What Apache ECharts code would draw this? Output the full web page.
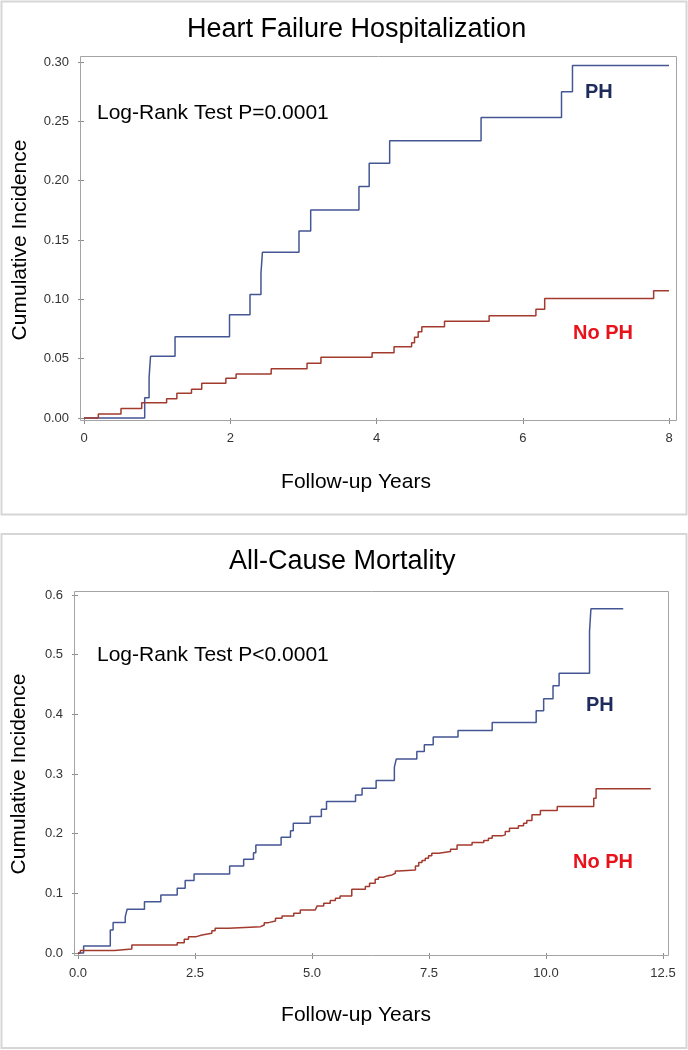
<!DOCTYPE html>
<html>
<head>
<meta charset="utf-8">
<script src="https://cdn.jsdelivr.net/npm/echarts@6/dist/echarts.min.js"></script>
<style>
  html, body { margin: 0; padding: 0; background: #fff; }
  #chart { width: 688px; height: 1050px; }
</style>
</head>
<body>
<div id="chart"></div>
<script>
// ---------------- DATA ----------------
const titles = ['Heart Failure Hospitalization', 'All-Cause Mortality'];
const logRankTexts = ['Log-Rank Test P=0.0001', 'Log-Rank Test P<0.0001'];
const groupNames = ['PH', 'No PH'];
const xAxisTitle = 'Follow-up Years';
const yAxisTitle = 'Cumulative Incidence';

// Heart failure hospitalization (top)
const hfPhTimes = [0, 0.83, 0.89, 0.91, 1.245, 1.99, 2.27, 2.42, 2.44, 2.94, 3.10, 3.76, 3.90, 4.18, 5.43, 6.53, 6.68, 8.0];
const hfPhValues = [0, 0.017, 0.034, 0.052, 0.0685, 0.087, 0.104, 0.122, 0.1396, 0.1576, 0.1753, 0.195, 0.2146, 0.2337, 0.2533, 0.275, 0.297, 0.297];
const hfNoPhTimes = [0, 0.196, 0.506, 0.789, 1.13, 1.27, 1.47, 1.61, 1.94, 2.08, 2.56, 3.05, 3.24, 3.94, 4.24, 4.48, 4.52, 4.57, 4.62, 4.93, 5.54, 6.18, 6.30, 7.79, 8.0];
const hfNoPhValues = [0, 0.0034, 0.0081, 0.0129, 0.0163, 0.0208, 0.0242, 0.0292, 0.0334, 0.0371, 0.0416, 0.0461, 0.0511, 0.055, 0.0601, 0.0635, 0.068, 0.0727, 0.0769, 0.0815, 0.0862, 0.0916, 0.1006, 0.1073, 0.1073];

// All-cause mortality (bottom)
const acmPhTimes = [0, 0.12, 0.69, 0.75, 1.01, 1.05, 1.42, 1.77, 2.12, 2.29, 2.48, 3.24, 3.54, 3.75, 3.80, 4.34, 4.54, 4.60, 4.96, 5.20, 5.31, 5.93, 6.07, 6.37, 6.76, 6.80, 7.24, 7.40, 7.59, 8.12, 8.85, 9.79, 9.95, 10.15, 10.28, 10.93, 10.96, 11.65];
const acmPhValues = [0, 0.0117, 0.0386, 0.051, 0.061, 0.0733, 0.0861, 0.0973, 0.1085, 0.1213, 0.1326, 0.146, 0.157, 0.168, 0.181, 0.194, 0.205, 0.2176, 0.2287, 0.241, 0.254, 0.265, 0.276, 0.289, 0.3115, 0.325, 0.3378, 0.349, 0.362, 0.373, 0.3864, 0.406, 0.426, 0.448, 0.469, 0.539, 0.577, 0.577];
const acmNoPhTimes = [0, 0.05, 0.78, 1.15, 2.12, 2.27, 2.36, 2.53, 2.65, 2.86, 2.93, 3.22, 3.90, 3.98, 4.07, 4.22, 4.36, 4.61, 4.75, 5.07, 5.11, 5.25, 5.39, 5.50, 5.60, 5.85, 6.14, 6.23, 6.35, 6.42, 6.53, 6.60, 6.71, 6.78, 6.85, 7.21, 7.28, 7.35, 7.42, 7.49, 7.56, 7.71, 7.96, 8.10, 8.42, 8.67, 8.77, 8.85, 9.06, 9.13, 9.22, 9.41, 9.52, 9.59, 9.70, 9.88, 10.24, 11.02, 11.07, 12.24];
const acmNoPhValues = [0, 0.004, 0.0067, 0.0134, 0.0173, 0.023, 0.0274, 0.0302, 0.033, 0.0375, 0.0414, 0.0442, 0.047, 0.0509, 0.0537, 0.0582, 0.0621, 0.0666, 0.0721, 0.075, 0.0789, 0.0834, 0.0878, 0.0918, 0.0956, 0.1068, 0.1113, 0.117, 0.1236, 0.127, 0.1292, 0.1309, 0.1337, 0.1376, 0.1393, 0.146, 0.1515, 0.1549, 0.1589, 0.1628, 0.1672, 0.17, 0.174, 0.1812, 0.185, 0.1884, 0.1924, 0.1963, 0.198, 0.2035, 0.2092, 0.2131, 0.2176, 0.222, 0.2315, 0.2388, 0.2455, 0.2595, 0.2752, 0.2752];

// Axis scales / tick labels
const hfXTicks = [0, 2, 4, 6, 8];
const hfYTicks = ['0.00', '0.05', '0.10', '0.15', '0.20', '0.25', '0.30'];
const acmXTicks = ['0.0', '2.5', '5.0', '7.5', '10.0', '12.5'];
const acmYTicks = ['0.0', '0.1', '0.2', '0.3', '0.4', '0.5', '0.6'];

// ---------------- STYLE / LAYOUT ----------------
const FONT = '"Liberation Sans", Arial, sans-serif';
const PH_COLOR = '#445694';
const NOPH_COLOR = '#A23A2E';
const PH_LABEL_COLOR = '#1d2c5c';
const NOPH_LABEL_COLOR = '#e8121b';
const AXIS_GRAY = '#a4a4a4';
const TICK_GRAY = '#8c8c8c';
const PANEL_GRAY = '#d6d6d6';

const panels = [
  { grid: { left: 84, top: 62, width: 585, height: 356 },
    frame: { x: 80.5, y: 56.5, width: 596, height: 364 },
    panelBox: { x: 1.5, y: 1.5, width: 685, height: 513 },
    titleLeft: 187, titleTop: 16,
    xNamePad: [0, 41, 0, 0], xNameGap: 51, yNameGap: 49,
    textPos: { lr: [97, 113], ph: [585, 92], noph: [573, 333] } },
  { grid: { left: 78, top: 595, width: 585, height: 358 },
    frame: { x: 74.5, y: 591.5, width: 594, height: 364 },
    panelBox: { x: 1.5, y: 534, width: 685, height: 514 },
    titleLeft: 229, titleTop: 548,
    xNamePad: [0, 29, 0, 0], xNameGap: 49, yNameGap: 44,
    textPos: { lr: [97, 655], ph: [586, 705], noph: [573, 862] } }
];

function zip(t, v) {
  const n = Math.min(t.length, v.length);
  const out = [];
  for (let i = 0; i < n; i++) out.push([t[i], v[i]]);
  return out;
}

const axisNameStyle = { fontFamily: FONT, fontSize: 21, color: '#000' };
const tickLabelStyle = { fontFamily: FONT, fontSize: 13, color: '#333' };
const tickStyle = { show: true, length: 6, lineStyle: { color: TICK_GRAY, width: 1 } };

const option = {
  animation: false,
  backgroundColor: '#fff',
  title: panels.map((p, i) => ({
    text: titles[i],
    left: p.titleLeft,
    top: p.titleTop,
    padding: 0,
    textStyle: { fontFamily: FONT, fontSize: 27, fontWeight: 'normal', color: '#000' }
  })),
  grid: panels.map(p => Object.assign({ containLabel: false }, p.grid)),
  xAxis: [
    { type: 'value', gridIndex: 0, min: 0, max: 8, interval: 2, offset: 3,
      axisLine: { show: false }, splitLine: { show: false },
      axisTick: tickStyle,
      axisLabel: Object.assign({ margin: 11, formatter: (v) => String(hfXTicks[Math.round(v / 2)]) }, tickLabelStyle),
      name: xAxisTitle, nameLocation: 'middle', nameGap: panels[0].xNameGap,
      nameTextStyle: Object.assign({ padding: panels[0].xNamePad }, axisNameStyle) },
    { type: 'value', gridIndex: 1, min: 0, max: 12.5, interval: 2.5, offset: 3,
      axisLine: { show: false }, splitLine: { show: false },
      axisTick: tickStyle,
      axisLabel: Object.assign({ margin: 11, formatter: (v) => acmXTicks[Math.round(v / 2.5)] }, tickLabelStyle),
      name: xAxisTitle, nameLocation: 'middle', nameGap: panels[1].xNameGap,
      nameTextStyle: Object.assign({ padding: panels[1].xNamePad }, axisNameStyle) }
  ],
  yAxis: [
    { type: 'value', gridIndex: 0, min: 0, max: 0.3, interval: 0.05, offset: 4,
      axisLine: { show: false }, splitLine: { show: false },
      axisTick: tickStyle,
      axisLabel: Object.assign({ margin: 11, formatter: (v) => hfYTicks[Math.round(v / 0.05)] }, tickLabelStyle),
      name: yAxisTitle, nameLocation: 'middle', nameGap: panels[0].yNameGap,
      nameTextStyle: axisNameStyle },
    { type: 'value', gridIndex: 1, min: 0, max: 0.6, interval: 0.1, offset: 4,
      axisLine: { show: false }, splitLine: { show: false },
      axisTick: tickStyle,
      axisLabel: Object.assign({ margin: 11, formatter: (v) => acmYTicks[Math.round(v / 0.1)] }, tickLabelStyle),
      name: yAxisTitle, nameLocation: 'middle', nameGap: panels[1].yNameGap,
      nameTextStyle: axisNameStyle }
  ],
  series: [
    { name: 'HF ' + groupNames[0], type: 'line', step: 'end', xAxisIndex: 0, yAxisIndex: 0,
      data: zip(hfPhTimes, hfPhValues), showSymbol: false, clip: false,
      lineStyle: { color: PH_COLOR, width: 1.5 }, itemStyle: { color: PH_COLOR } },
    { name: 'HF ' + groupNames[1], type: 'line', step: 'end', xAxisIndex: 0, yAxisIndex: 0,
      data: zip(hfNoPhTimes, hfNoPhValues), showSymbol: false, clip: false,
      lineStyle: { color: NOPH_COLOR, width: 1.5 }, itemStyle: { color: NOPH_COLOR } },
    { name: 'ACM ' + groupNames[0], type: 'line', step: 'end', xAxisIndex: 1, yAxisIndex: 1,
      data: zip(acmPhTimes, acmPhValues), showSymbol: false, clip: false,
      lineStyle: { color: PH_COLOR, width: 1.5 }, itemStyle: { color: PH_COLOR } },
    { name: 'ACM ' + groupNames[1], type: 'line', step: 'end', xAxisIndex: 1, yAxisIndex: 1,
      data: zip(acmNoPhTimes, acmNoPhValues), showSymbol: false, clip: false,
      lineStyle: { color: NOPH_COLOR, width: 1.5 }, itemStyle: { color: NOPH_COLOR } }
  ],
  graphic: []
};

panels.forEach((p, i) => {
  option.graphic.push({
    type: 'rect', silent: true, z: -10,
    shape: p.panelBox,
    style: { fill: 'none', stroke: PANEL_GRAY, lineWidth: 2 }
  });
  option.graphic.push({
    type: 'rect', silent: true, z: 10,
    shape: p.frame,
    style: { fill: 'none', stroke: AXIS_GRAY, lineWidth: 1 }
  });
  const t = p.textPos;
  option.graphic.push({
    type: 'text', silent: true, z: 20, x: t.lr[0], y: t.lr[1],
    style: { text: logRankTexts[i], font: '21px ' + FONT, fill: '#000',
             textVerticalAlign: 'middle', verticalAlign: 'middle' }
  });
  option.graphic.push({
    type: 'text', silent: true, z: 20, x: t.ph[0], y: t.ph[1],
    style: { text: groupNames[0], font: 'bold 20px ' + FONT, fill: PH_LABEL_COLOR,
             textVerticalAlign: 'middle', verticalAlign: 'middle' }
  });
  option.graphic.push({
    type: 'text', silent: true, z: 20, x: t.noph[0], y: t.noph[1],
    style: { text: groupNames[1], font: 'bold 20px ' + FONT, fill: NOPH_LABEL_COLOR,
             textVerticalAlign: 'middle', verticalAlign: 'middle' }
  });
});

const chart = echarts.init(document.getElementById('chart'), null, { renderer: 'canvas' });
chart.setOption(option);
</script>
</body>
</html>
